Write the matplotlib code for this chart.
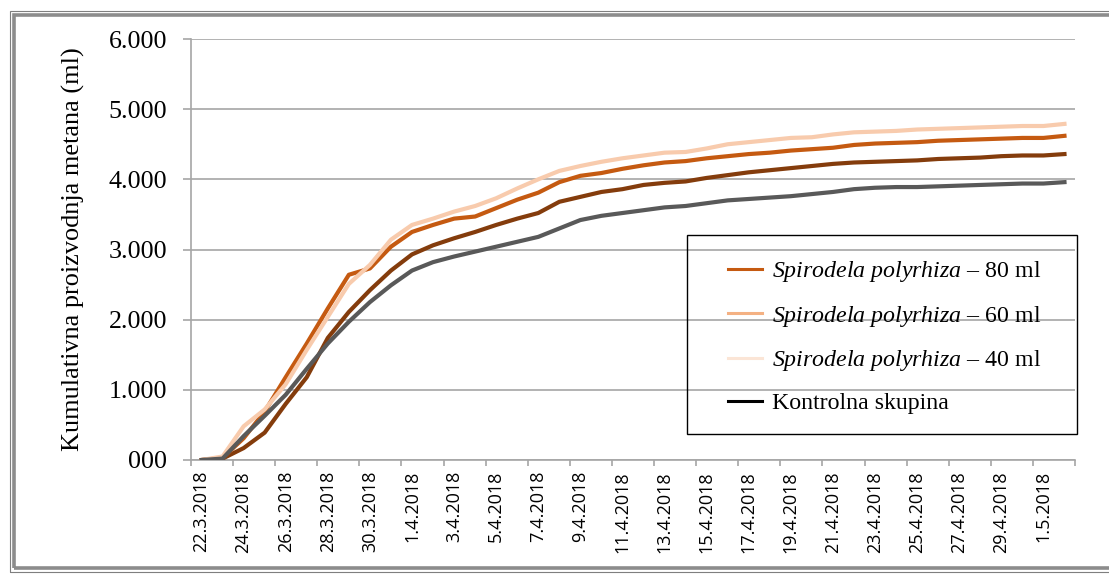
import matplotlib
matplotlib.use("Agg")
import matplotlib.pyplot as plt
from matplotlib.lines import Line2D
from matplotlib.patches import Rectangle
from matplotlib.ticker import FixedLocator, NullFormatter

dates = ["22.3.2018", "23.3.2018", "24.3.2018", "25.3.2018", "26.3.2018", "27.3.2018",
         "28.3.2018", "29.3.2018", "30.3.2018", "31.3.2018", "1.4.2018", "2.4.2018",
         "3.4.2018", "4.4.2018", "5.4.2018", "6.4.2018", "7.4.2018", "8.4.2018",
         "9.4.2018", "10.4.2018", "11.4.2018", "12.4.2018", "13.4.2018", "14.4.2018",
         "15.4.2018", "16.4.2018", "17.4.2018", "18.4.2018", "19.4.2018", "20.4.2018",
         "21.4.2018", "22.4.2018", "23.4.2018", "24.4.2018", "25.4.2018", "26.4.2018",
         "27.4.2018", "28.4.2018", "29.4.2018", "30.4.2018", "1.5.2018", "2.5.2018"]

sp_80 = [0, 30, 310, 690, 1180, 1660, 2160, 2640, 2730, 3040, 3250, 3350, 3440, 3470,
         3590, 3710, 3810, 3960, 4050, 4090, 4150, 4200, 4240, 4260, 4300, 4330, 4360,
         4380, 4410, 4430, 4450, 4490, 4510, 4520, 4530, 4550, 4560, 4570, 4580, 4590,
         4590, 4620]
sp_60 = [0, 20, 170, 390, 800, 1180, 1740, 2110, 2420, 2700, 2930, 3060, 3160, 3250,
         3350, 3440, 3520, 3680, 3750, 3820, 3860, 3920, 3950, 3970, 4020, 4060, 4100,
         4130, 4160, 4190, 4220, 4240, 4250, 4260, 4270, 4290, 4300, 4310, 4330, 4340,
         4340, 4360]
sp_40 = [0, 50, 480, 720, 1080, 1570, 2040, 2510, 2780, 3140, 3350, 3440, 3540, 3620,
         3730, 3870, 4000, 4120, 4190, 4250, 4300, 4340, 4380, 4390, 4440, 4500, 4530,
         4560, 4590, 4600, 4640, 4670, 4680, 4690, 4710, 4720, 4730, 4740, 4750, 4760,
         4760, 4790]
kontrola = [0, 20, 340, 630, 930, 1300, 1660, 1970, 2250, 2490, 2700, 2820, 2900, 2970,
            3040, 3110, 3180, 3300, 3420, 3480, 3520, 3560, 3600, 3620, 3660, 3700, 3720,
            3740, 3760, 3790, 3820, 3860, 3880, 3890, 3890, 3900, 3910, 3920, 3930, 3940,
            3940, 3960]

y_ticks = [0, 1000, 2000, 3000, 4000, 5000, 6000]
y_tick_labels = ["000", "1.000", "2.000", "3.000", "4.000", "5.000", "6.000"]

legend_labels = [r"$\it{Spirodela\ polyrhiza}$ – 80 ml",
                 r"$\it{Spirodela\ polyrhiza}$ – 60 ml",
                 r"$\it{Spirodela\ polyrhiza}$ – 40 ml",
                 "Kontrolna skupina"]

plt.rcParams["mathtext.fontset"] = "custom"
plt.rcParams["mathtext.rm"] = "Liberation Serif"
plt.rcParams["mathtext.it"] = "Liberation Serif:italic"

W, H = 1109, 574
fig = plt.figure(figsize=(W / 100, H / 100), dpi=100)
ax = fig.add_axes([191/W, 1-460/H, (1075-191)/W, (460-39)/H])

x = list(range(len(dates)))
ax.plot(x, sp_60, color="#843C0C", lw=3.0, solid_joinstyle="round", zorder=3)
ax.plot(x, sp_80, color="#C55A11", lw=3.0, solid_joinstyle="round", zorder=3)
ax.plot(x, sp_40, color="#F8CBAD", lw=3.0, solid_joinstyle="round", zorder=3)
ax.plot(x, kontrola, color="#595959", lw=3.0, solid_joinstyle="round", zorder=4)

ax.set_xlim(-0.5, len(dates) - 0.5)
ax.set_ylim(0, 6000)

grid_c = "#A6A6A6"
ax.set_yticks(y_ticks)
ax.set_yticklabels(y_tick_labels, fontfamily="Liberation Serif", fontsize=18.7)
ax.yaxis.grid(True, color=grid_c, lw=1.2)
ax.tick_params(axis="y", length=5.8, width=1.2, color=grid_c, pad=11.5)

ax.set_xticks(x[::2])
ax.set_xticklabels(dates[::2], rotation=90, fontfamily="Open Sans", fontsize=13.0)
ax.tick_params(axis="x", which="major", length=0, pad=8)
ax.xaxis.set_minor_locator(FixedLocator([i - 0.5 for i in range(0, len(dates) + 1, 2)]))
ax.xaxis.set_minor_formatter(NullFormatter())
ax.tick_params(axis="x", which="minor", length=4.5, width=1.2, color=grid_c)

for s in ["top", "right"]:
    ax.spines[s].set_visible(False)
for s in ["left", "bottom"]:
    ax.spines[s].set_color(grid_c)
    ax.spines[s].set_linewidth(1.2)
ax.set_axisbelow(True)

ax.set_ylabel("Kumulativna proizvodnja metana (ml)", fontfamily="Liberation Serif",
              fontsize=18.9, labelpad=17)

handles = [Line2D([], [], color="#C55A11", lw=2.2),
           Line2D([], [], color="#F4B183", lw=2.2),
           Line2D([], [], color="#FBE5D6", lw=2.2),
           Line2D([], [], color="#000000", lw=2.2)]
leg = fig.legend(handles, legend_labels, loc="upper left",
                 bbox_to_anchor=(728/W, 1-259/H), borderaxespad=0,
                 prop={"family": "Liberation Serif", "size": 17.2}, frameon=False,
                 borderpad=0, labelspacing=0.82, handlelength=1.42, handletextpad=0.42)

# legend frame
fig.add_artist(Rectangle((687/W, 1-434/H), (1077-687)/W, (434-235)/H,
                         transform=fig.transFigure, fill=False, edgecolor="black",
                         lw=1.0, zorder=5))

# outer frame
fig.add_artist(Rectangle((10/W, 1-572/H), 1.02, 561/H, transform=fig.transFigure,
                         fill=False, edgecolor="#7F7F7F", lw=0.8))
fig.add_artist(Rectangle((14/W, 1-568/H), 1.02, 553/H, transform=fig.transFigure,
                         fill=False, edgecolor="#8C8C8C", lw=2.6))

fig.savefig("out.png", dpi=100)
